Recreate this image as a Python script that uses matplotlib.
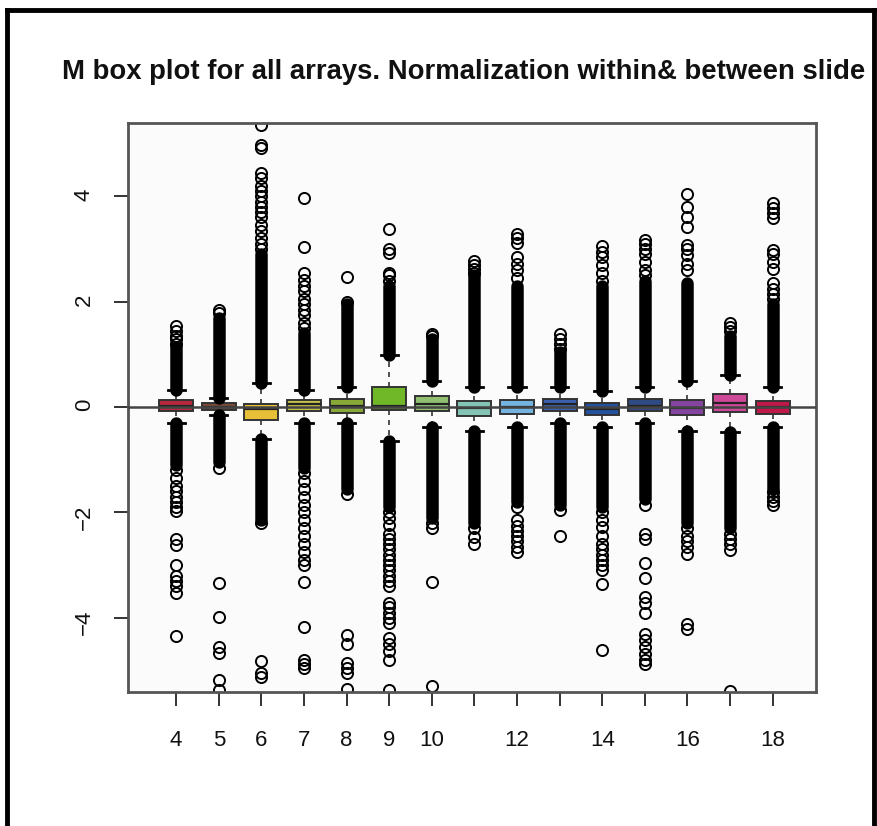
import matplotlib
matplotlib.use("Agg")
import matplotlib.pyplot as plt
from matplotlib.lines import Line2D

plt.rcParams['font.family'] = ['Liberation Sans', 'DejaVu Sans']

# arrays 4..18, box stats
arrays = list(range(4, 19))
q1 = [-0.07, -0.06, -0.24, -0.07, -0.11, -0.06, -0.07, -0.17, -0.13, -0.07, -0.15, -0.08, -0.15, -0.09, -0.13]
med = [0.03, 0.01, -0.03, 0.05, 0.03, 0.02, 0.05, -0.02, 0.0, 0.05, -0.03, 0.03, -0.01, 0.08, 0.0]
q3 = [0.13, 0.07, 0.06, 0.13, 0.15, 0.39, 0.21, 0.12, 0.13, 0.16, 0.08, 0.15, 0.13, 0.25, 0.12]
wh_lo = [-0.3, -0.15, -0.6, -0.3, -0.31, -0.65, -0.37, -0.45, -0.37, -0.3, -0.37, -0.3, -0.45, -0.47, -0.37]
wh_hi = [0.32, 0.17, 0.45, 0.32, 0.38, 0.98, 0.5, 0.38, 0.38, 0.38, 0.3, 0.38, 0.5, 0.6, 0.38]

# extent of the solid runs of outliers next to the whiskers
dense_lo = [-1.1, -1.04, -2.15, -1.15, -1.55, -1.9, -2.1, -2.2, -1.8, -1.85, -1.9, -1.75, -2.2, -2.3, -1.55]
dense_hi = [1.15, 1.7, 2.9, 1.4, 1.95, 2.3, 1.3, 2.5, 2.3, 1.05, 2.3, 2.4, 2.35, 1.35, 1.95]

# single outliers beyond the solid runs
out_hi = [
    [1.2, 1.3, 1.35, 1.45, 1.53],
    [1.78, 1.84],
    [3.0, 3.1, 3.2, 3.35, 3.45, 3.6, 3.7, 3.8, 3.9, 4.0, 4.1, 4.2, 4.35, 4.45, 4.92, 4.98, 5.35],
    [1.5, 1.6, 1.75, 1.85, 1.95, 2.05, 2.2, 2.3, 2.42, 2.55, 3.03, 3.96],
    [2.0, 2.47],
    [2.4, 2.5, 2.55, 2.93, 3.0, 3.38],
    [1.35, 1.38],
    [2.55, 2.62, 2.7, 2.78],
    [2.45, 2.6, 2.72, 2.85, 3.12, 3.2, 3.28],
    [1.1, 1.2, 1.3, 1.38],
    [2.4, 2.55, 2.7, 2.85, 2.95, 3.05],
    [2.5, 2.6, 2.75, 2.9, 3.0, 3.1, 3.17],
    [2.6, 2.72, 2.88, 3.0, 3.08, 3.42, 3.6, 3.8, 4.05],
    [1.45, 1.52, 1.6],
    [2.05, 2.15, 2.25, 2.35, 2.62, 2.75, 2.9, 2.98, 3.58, 3.68, 3.78, 3.88],
]
out_lo = [
    [-1.2, -1.35, -1.5, -1.6, -1.7, -1.8, -1.9, -1.98, -2.5, -2.62, -3.0, -3.2, -3.3, -3.4, -3.52, -4.35],
    [-1.16, -3.33, -3.98, -4.55, -4.67, -5.18, -5.37],
    [-2.2, -4.82, -5.05, -5.12],
    [-1.25, -1.4, -1.55, -1.7, -1.85, -2.0, -2.15, -2.3, -2.45, -2.6, -2.75, -2.9, -3.0, -3.32, -4.17, -4.8, -4.88, -4.95],
    [-1.64, -4.33, -4.5, -4.85, -4.95, -5.05, -5.35],
    [-2.0, -2.1, -2.24, -2.4, -2.5, -2.6, -2.7, -2.8, -2.9, -3.0, -3.1, -3.2, -3.3, -3.4, -3.72, -3.8, -3.9, -4.0, -4.1, -4.38, -4.5, -4.62, -4.8, -5.37],
    [-2.2, -2.3, -3.32, -5.3],
    [-2.3, -2.47, -2.6],
    [-1.9, -2.15, -2.25, -2.35, -2.45, -2.55, -2.65, -2.75],
    [-1.95, -2.45],
    [-2.0, -2.15, -2.27, -2.45, -2.6, -2.7, -2.8, -2.9, -3.0, -3.1, -3.35, -4.6],
    [-1.85, -2.4, -2.5, -2.95, -3.25, -3.6, -3.72, -3.9, -4.3, -4.42, -4.55, -4.68, -4.8, -4.88],
    [-2.3, -2.45, -2.55, -2.65, -2.78, -4.12, -4.22],
    [-2.4, -2.5, -2.6, -2.72, -5.38],
    [-1.62, -1.7, -1.78, -1.85],
]

colors = ['#b8283c', '#7c4a38', '#e8c038', '#c4c448', '#88a838', '#70b828', '#90c070',
          '#84c4b4', '#74b2e0', '#3a60b0', '#2452a0', '#304a84', '#8444a0', '#d04898', '#c01848']

# title as visible in the picture (the end is lost behind the frame)
title = "M box plot for all arrays. Normalization within& between slide"

fig = plt.figure(figsize=(8.77, 8.26), dpi=100)
fig.patch.set_facecolor('white')
ax = fig.add_axes([0.146, 0.162, 0.785, 0.689])
ax.set_facecolor('#fbfbfb')

stats = []
for i in range(len(arrays)):
    stats.append({"q1": q1[i], "med": med[i], "q3": q3[i],
                  "whislo": wh_lo[i], "whishi": wh_hi[i],
                  "fliers": out_hi[i] + out_lo[i]})

bp = ax.bxp(stats, positions=arrays, widths=0.8, patch_artist=True, showfliers=True,
            boxprops=dict(edgecolor='#333333', linewidth=1.4),
            medianprops=dict(color='#222222', linewidth=1.6),
            whiskerprops=dict(color='#333333', linewidth=1.2, linestyle=(0, (3, 3))),
            capprops=dict(color='black', linewidth=2),
            flierprops=dict(marker='o', markerfacecolor='none', markeredgecolor='black',
                            markersize=8, markeredgewidth=1.4, linestyle='none'))
for patch, c in zip(bp['boxes'], colors):
    patch.set_facecolor(c)

# solid runs of overlapping outlier circles
ax.vlines(arrays, wh_hi, dense_hi, colors='black', linewidth=9, capstyle='round', zorder=3)
ax.vlines(arrays, dense_lo, wh_lo, colors='black', linewidth=9, capstyle='round', zorder=3)

ax.axhline(0, color='#444444', linewidth=1.8, zorder=4)

ax.set_xlim(2.87, 19.03)
ax.set_ylim(-5.41, 5.39)
ax.set_xticks(arrays)
ax.set_xticklabels([str(a) if (a <= 10 or a % 2 == 0) else '' for a in arrays])
ax.set_yticks([-4, -2, 0, 2, 4])
ax.set_yticklabels(['\u22124', '\u22122', '0', '2', '4'])
ax.tick_params(axis='both', direction='out', length=10, width=1.4, color='#333333',
               labelsize=16, labelcolor='#111111')
ax.tick_params(axis='x', pad=17)
ax.tick_params(axis='y', labelrotation=90, pad=14)
for s in ax.spines.values():
    s.set_color('#555555')
    s.set_linewidth(2)

fig.text(62 / 877, 1 - 72 / 826, title, ha='left', va='center',
         fontsize=19.8, fontweight='bold', color='#111111')

# black frame around the picture (no bottom edge)
x0, x1, y1 = 7 / 877, 874 / 877, 1 - 10 / 826
fig.add_artist(Line2D([x0, x0], [0, y1], color='black', linewidth=3.5, transform=fig.transFigure))
fig.add_artist(Line2D([x0, x1], [y1, y1], color='black', linewidth=3.5, transform=fig.transFigure))
fig.add_artist(Line2D([x1, x1], [0, y1], color='black', linewidth=3.5, transform=fig.transFigure))

fig.savefig('out.png', dpi=100)
